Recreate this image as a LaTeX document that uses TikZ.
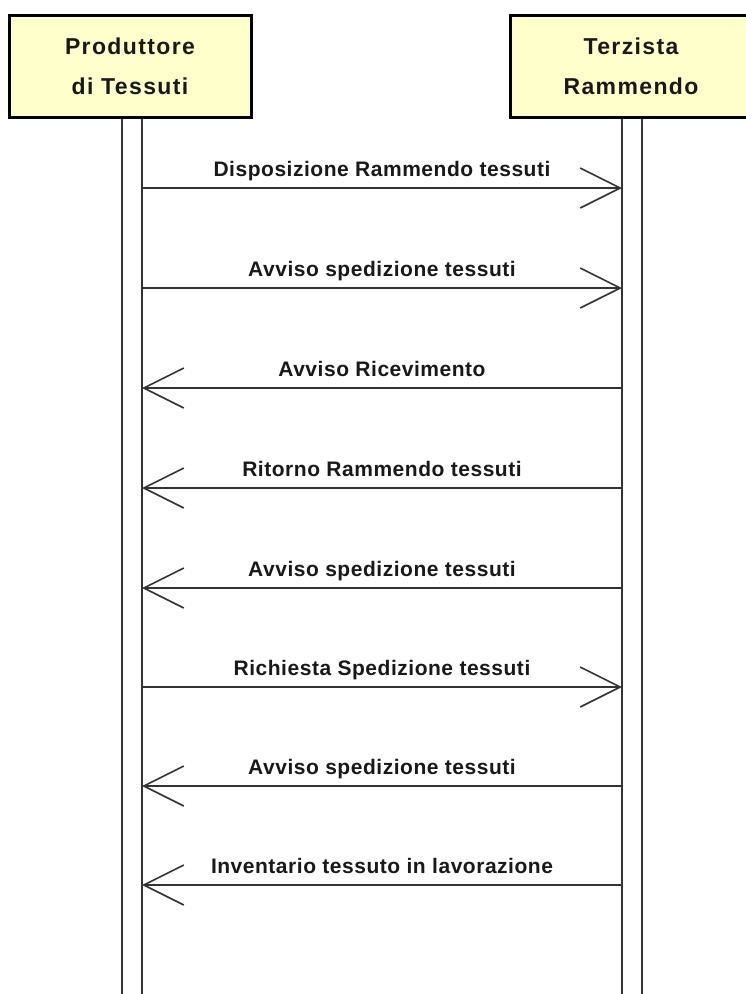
\documentclass[tikz,border=0pt]{standalone}
\usepackage{fontspec}
\setsansfont{Liberation Sans}
\newfontfamily\hdrfont{Liberation Sans}[LetterSpace=6]
\newfontfamily\lblfont{Liberation Sans}[LetterSpace=2.5]
\usetikzlibrary{arrows.meta}
\definecolor{boxyellow}{RGB}{255,255,204}
\tikzset{
    actor/.style = {rectangle, line width=3pt, draw=black, fill=boxyellow, align=center, minimum width=242pt, minimum height=102pt, inner sep=0pt, font=\hdrfont\bfseries\fontsize{23}{40}\selectfont, text=black!90},
    life/.style = {-, line width=2pt, black!80},
    msgr/.style = {-{Straight Barb[length=40pt,width=40pt,line width=1.6pt]}, line width=2pt, black!80},
    msgl/.style = {{Straight Barb[length=40pt,width=40pt,line width=1.6pt]}-, line width=2pt, black!80},
    lbl/.style = {midway, anchor=base, yshift=12pt, inner sep=0pt, font=\lblfont\bfseries\fontsize{21}{24}\selectfont, text=black!90}
}
\begin{document}
\begin{tikzpicture}[x=1pt,y=-1pt]
\path[use as bounding box] (0,0) rectangle (746,994);
%
\node[actor] at (130,66) (prod) {Produttore\\di Tessuti};
\node[actor] at (631,66) (terz) {Terzista\\Rammendo};
%
\coordinate (pa) at (122,994);
\coordinate (pb) at (142,994);
\coordinate (ta) at (622,994);
\coordinate (tb) at (642,994);
\draw[life] (pa |- prod.south) -- (pa);
\draw[life] (pb |- prod.south) -- (pb);
\draw[life] (ta |- terz.south) -- (ta);
\draw[life] (tb |- terz.south) -- (tb);
%
\coordinate (p1) at (142,188); \coordinate (t1) at (622,188);
\coordinate (p2) at (142,288); \coordinate (t2) at (622,288);
\coordinate (p3) at (142,388); \coordinate (t3) at (622,388);
\coordinate (p4) at (142,488); \coordinate (t4) at (622,488);
\coordinate (p5) at (142,588); \coordinate (t5) at (622,588);
\coordinate (p6) at (142,687); \coordinate (t6) at (622,687);
\coordinate (p7) at (142,786); \coordinate (t7) at (622,786);
\coordinate (p8) at (142,885); \coordinate (t8) at (622,885);
%
\draw[msgr] (p1) -- node[lbl] {Disposizione Rammendo tessuti} (t1);
\draw[msgr] (p2) -- node[lbl] {Avviso spedizione tessuti} (t2);
\draw[msgl] (p3) -- node[lbl] {Avviso Ricevimento} (t3);
\draw[msgl] (p4) -- node[lbl] {Ritorno Rammendo tessuti} (t4);
\draw[msgl] (p5) -- node[lbl] {Avviso spedizione tessuti} (t5);
\draw[msgr] (p6) -- node[lbl] {Richiesta Spedizione tessuti} (t6);
\draw[msgl] (p7) -- node[lbl] {Avviso spedizione tessuti} (t7);
\draw[msgl] (p8) -- node[lbl] {Inventario tessuto in lavorazione} (t8);

\end{tikzpicture}
\end{document}
